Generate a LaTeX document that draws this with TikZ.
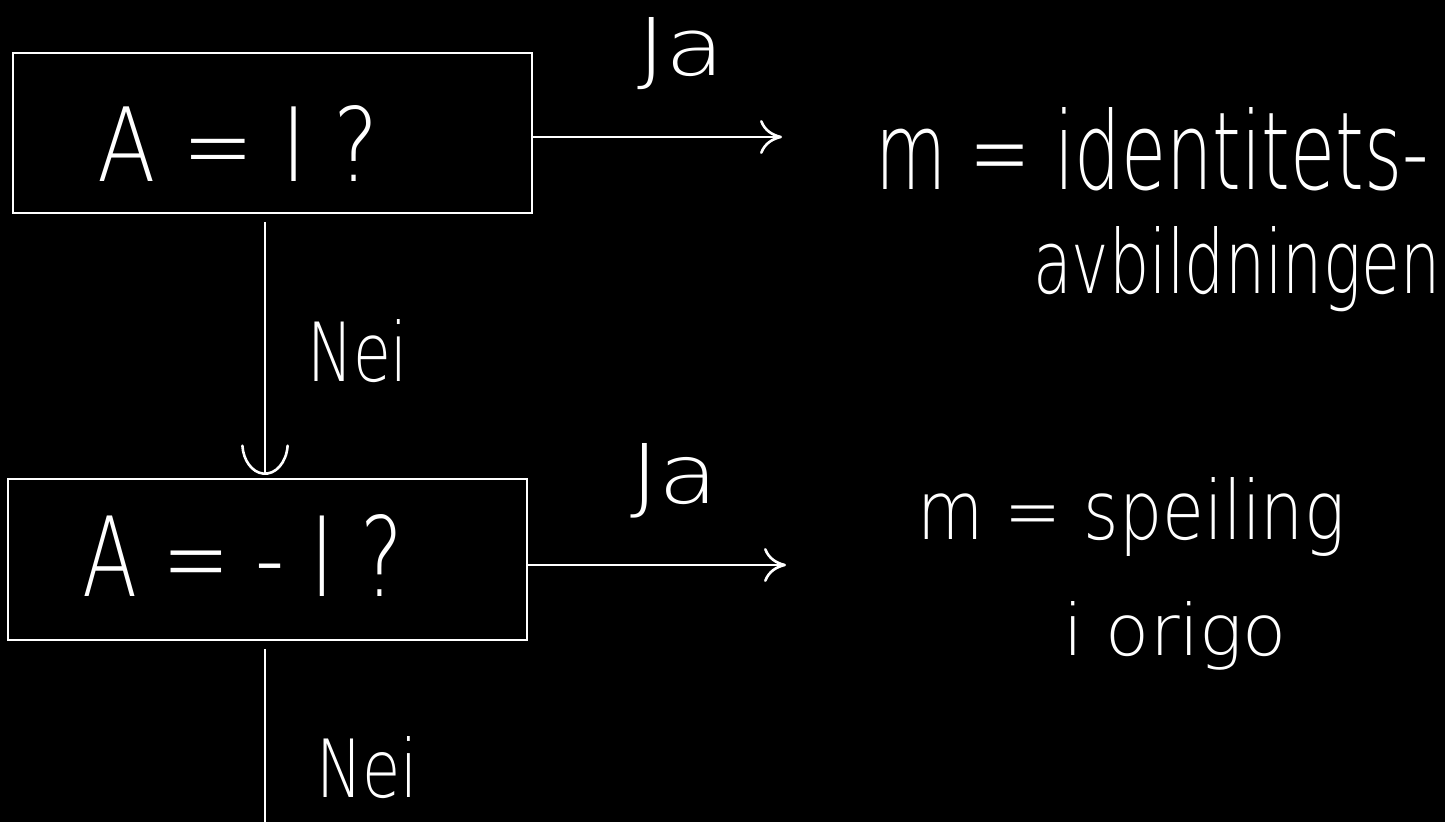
\documentclass[tikz,border=0pt]{standalone}
\usepackage{fontspec}
% a light sans face when available, otherwise a regular one
\IfFontExistsTF{DejaVu Sans ExtraLight}
  {\setmainfont{DejaVu Sans ExtraLight}}
  {\setmainfont{Liberation Sans}}
\usetikzlibrary{arrows.meta}
% scale a piece of text to a given width and height above the baseline
\newcommand\fitwh[3]{\resizebox{#1}{#2}{#3}}

\begin{document}
\begin{tikzpicture}[x=0.5pt, y=-0.5pt,
  qbox/.style={draw=white, line width=1.3pt, inner sep=0, outer sep=0,
               minimum width=259.5pt},
  lbl/.style={anchor=base west, inner sep=0, outer sep=0, text=white},
  flow/.style={draw=white, line width=1.3pt},
  tipR/.style={-{Computer Modern Rightarrow[length=11pt, width=17pt, line cap=round]}},
  tipD/.style={-{Arc Barb[arc=170, length=16pt, width=24pt, line cap=round]}}]

  % canvas
  \fill[black] (0,0) rectangle (1445,822);
  \useasboundingbox (0,0) rectangle (1445,822);

  % decision boxes
  \node[qbox, minimum height=80pt]   (q1) at (272.5,133)   {};
  \node[qbox, minimum height=80.5pt] (q2) at (267.5,559.5) {};

  % questions
  \node[lbl] (q1t) at (97,182) {\fitwh{141pt}{38pt}{A = I ?}};
  \node[lbl] (q2t) at (82,597) {\fitwh{160.5pt}{41pt}{A = - I ?}};

  % branch labels
  \node[lbl] (ja1)  at (637,76)  {\fitwh{44pt}{29pt}{Ja}};
  \node[lbl] (ja2)  at (630,504) {\fitwh{44.5pt}{30pt}{Ja}};
  \node[lbl] (nei1) at (307,382) {\fitwh{50.5pt}{31pt}{Nei}};
  \node[lbl] (nei2) at (316,797) {\fitwh{51pt}{30.5pt}{Nei}};

  % outcomes
  \node[lbl] (r1a) at (875,190)  {\fitwh{277pt}{41pt}{m = identitets-}};
  \node[lbl] (r1b) at (1033,294) {\fitwh{203.5pt}{33.5pt}{avbildningen}};
  \node[lbl] (r2a) at (917,540)  {\fitwh{214pt}{31pt}{m = speiling}};
  \node[lbl] (r2b) at (1063,655) {\fitwh{112pt}{27pt}{i origo}};

  % free ends of the connectors
  \coordinate (j1end) at (782,137);
  \coordinate (j2end) at (786,565);
  \coordinate (nend)  at (265,830);

  % connectors
  \draw[flow, tipR] ([yshift=-2pt]q1.east) -- (j1end);
  \draw[flow, tipR] ([yshift=-2.75pt]q2.east) -- (j2end);
  \draw[flow, tipD] ([xshift=-3.75pt, yshift=-4.5pt]q1.south)
                 -- ([xshift=-1.25pt, yshift=2pt]q2.north);
  \draw[flow] ([xshift=-1.25pt, yshift=-4.5pt]q2.south) -- (nend);
\end{tikzpicture}
\end{document}
